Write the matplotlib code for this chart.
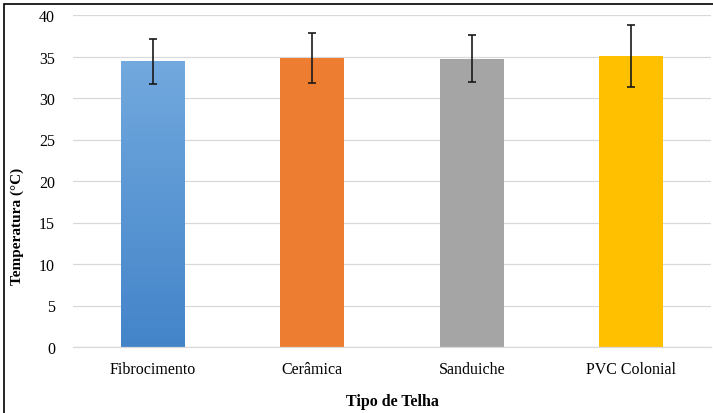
import matplotlib
matplotlib.use("Agg")
import matplotlib.pyplot as plt
import numpy as np
from matplotlib.patches import Rectangle
from matplotlib.colors import LinearSegmentedColormap

categories = ["Fibrocimento", "Cerâmica", "Sanduiche", "PVC Colonial"]
means = [34.4, 34.8, 34.75, 35.05]
errors = [2.7, 3.0, 2.85, 3.7]
colors = ["#5b9bd5", "#ED7D31", "#A5A5A5", "#FFC000"]
yticks = [0, 5, 10, 15, 20, 25, 30, 35, 40]

plt.rcParams["font.family"] = ["Liberation Serif", "DejaVu Serif"]

W, H = 713, 414
fig = plt.figure(figsize=(W / 100, H / 100), dpi=100)
ax = fig.add_axes([73 / W, 1 - 348 / H, (711 - 73) / W, (348 - 16) / H])

x = np.arange(len(categories))
bars = ax.bar(x, means, width=0.4, color=colors, zorder=2)

# vertical gradient on the first bar
grad = LinearSegmentedColormap.from_list("g", ["#4384c9", "#72a9de"])
b0 = bars[0]
bx, bw, bh = b0.get_x(), b0.get_width(), b0.get_height()
img = ax.imshow(np.linspace(0, 1, 256).reshape(-1, 1), cmap=grad, aspect="auto",
                origin="lower", extent=[bx, bx + bw, 0, bh], zorder=2.5)
img.set_clip_path(b0)

ax.errorbar(x, means, yerr=errors, fmt="none", ecolor="#1a1a1a",
            elinewidth=1.2, capsize=3, capthick=1.2, zorder=3)

ax.set_xlim(-0.5, len(categories) - 0.5)
ax.set_ylim(0, 40)
ax.set_yticks(yticks)
ax.set_xticks(x)
ax.set_xticklabels(categories, fontsize=11.5)
ax.tick_params(axis="y", labelsize=11.5, length=0, pad=13)
ax.tick_params(axis="x", length=0, pad=10)
ax.grid(axis="y", color="#d9d9d9", linewidth=0.9, zorder=0)
ax.set_axisbelow(True)
for s in ["top", "right", "left"]:
    ax.spines[s].set_visible(False)
ax.spines["bottom"].set_color("#d9d9d9")
ax.spines["bottom"].set_linewidth(0.9)

# axis titles
fig.text(392 / W, 1 - 402 / H, "Tipo de Telha", fontsize=11.5, fontweight="bold",
         ha="center", va="center")
fig.text(17 / W, 1 - 226 / H, "Temperatura (°C)", fontsize=11, fontweight="bold",
         rotation=90, ha="center", va="center")

# outer frame
fig.patches.append(Rectangle((4 / W, -0.1), 1.2, 1 - 5 / H + 0.1,
                             transform=fig.transFigure, fill=False,
                             edgecolor="black", linewidth=1.2))

fig.savefig("out.png", dpi=100)
